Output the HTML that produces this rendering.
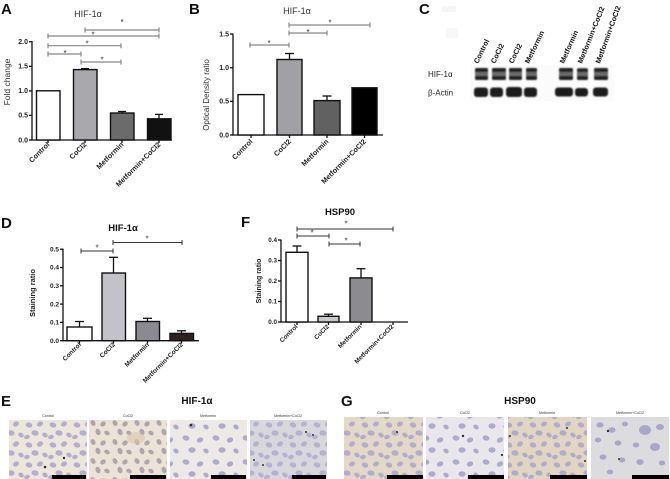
<!DOCTYPE html>
<html><head><meta charset="utf-8"><style>
html,body{margin:0;padding:0;background:#fff;}
svg{display:block;font-family:"Liberation Sans",sans-serif;}
.tl{font-size:7px;font-weight:bold;fill:#222;text-anchor:end;}
.xl{font-size:7.2px;font-weight:bold;fill:#222;text-anchor:end;}
.pl{font-size:15px;font-weight:bold;fill:#111;}
.st{font-size:8px;fill:#333;text-anchor:middle;}
.ax{stroke:#111;stroke-width:1.3;fill:none;}
.br{stroke:#888;stroke-width:1.2;fill:none;}
.bk{stroke:#333;stroke-width:1;fill:none;}
.bar{stroke:#111;stroke-width:1.4;}
.cap{font-size:3.6px;fill:#333;text-anchor:middle;}
</style></head><body>
<svg width="670" height="479" viewBox="0 0 670 479" xmlns="http://www.w3.org/2000/svg">
<defs>
<pattern id="nA" width="24" height="20" patternUnits="userSpaceOnUse">
<g fill="#aba8cb"><ellipse cx="5" cy="5" rx="3.4" ry="2.5" transform="rotate(20 5 5)"/><ellipse cx="16" cy="4" rx="3.2" ry="2.4" transform="rotate(-30 16 4)"/><ellipse cx="11" cy="13" rx="3.6" ry="2.7" transform="rotate(10 11 13)"/><ellipse cx="21" cy="15" rx="3" ry="2.2" transform="rotate(40 21 15)"/><ellipse cx="3" cy="17" rx="2.9" ry="2.1" transform="rotate(-20 3 17)"/></g>
</pattern>
<pattern id="nB" width="22" height="19" patternUnits="userSpaceOnUse">
<g fill="#a89ea5"><ellipse cx="5" cy="5" rx="3.1" ry="2.3" transform="rotate(60 5 5)"/><ellipse cx="15" cy="6" rx="3" ry="2.3" transform="rotate(-40 15 6)"/><ellipse cx="10" cy="14" rx="3.3" ry="2.4" transform="rotate(70 10 14)"/><ellipse cx="19" cy="15" rx="2.9" ry="2.1" transform="rotate(30 19 15)"/></g>
</pattern>
<pattern id="nC" width="30" height="24" patternUnits="userSpaceOnUse">
<g fill="#adabcc"><ellipse cx="6" cy="6" rx="3.5" ry="2.6" transform="rotate(15 6 6)"/><ellipse cx="20" cy="8" rx="3.3" ry="2.5" transform="rotate(-25 20 8)"/><ellipse cx="12" cy="18" rx="3.6" ry="2.7"/><ellipse cx="26" cy="19" rx="2.9" ry="2.2" transform="rotate(35 26 19)"/></g>
</pattern>
<filter id="bl" x="-20%" y="-50%" width="140%" height="200%"><feGaussianBlur stdDeviation="0.7"/></filter>
</defs>

<!-- ============ PANEL A ============ -->
<text class="pl" x="1" y="14">A</text>
<text x="88" y="17" font-size="9" fill="#333" text-anchor="middle">HIF-1α</text>
<text transform="translate(10,82) rotate(-90)" font-size="8.5" fill="#333" text-anchor="middle">Fold change</text>
<g class="ax">
<line x1="32" y1="41" x2="32" y2="140.6"/>
<line x1="31.4" y1="140" x2="172" y2="140"/>
<line x1="29" y1="41.7" x2="32" y2="41.7"/><line x1="29" y1="66.3" x2="32" y2="66.3"/><line x1="29" y1="90.9" x2="32" y2="90.9"/><line x1="29" y1="115.4" x2="32" y2="115.4"/><line x1="29" y1="140" x2="32" y2="140"/>
<line x1="48" y1="140" x2="48" y2="143"/><line x1="85" y1="140" x2="85" y2="143"/><line x1="122" y1="140" x2="122" y2="143"/><line x1="159" y1="140" x2="159" y2="143"/>
</g>
<text class="tl" x="28" y="44">2.0</text><text class="tl" x="28" y="68.6">1.5</text><text class="tl" x="28" y="93.2">1.0</text><text class="tl" x="28" y="117.7">0.5</text><text class="tl" x="28" y="142.3">0.0</text>
<rect class="bar" x="36.5" y="90.8" width="23.5" height="49.2" fill="#fff"/>
<rect class="bar" x="73.5" y="69.6" width="23.5" height="70.4" fill="#a9a9ad"/>
<line class="ax" x1="85" y1="69.6" x2="85" y2="68.6"/><line class="ax" x1="81" y1="68.6" x2="89" y2="68.6"/>
<rect class="bar" x="110.5" y="113" width="23.5" height="27" fill="#6b6b6b"/>
<line class="ax" x1="122" y1="113" x2="122" y2="111.5"/><line class="ax" x1="118" y1="111.5" x2="126" y2="111.5"/>
<rect class="bar" x="147.5" y="118.8" width="23.5" height="21.2" fill="#111"/>
<line class="ax" x1="159" y1="118.8" x2="159" y2="114.4"/><line class="ax" x1="155" y1="114.4" x2="163" y2="114.4"/>
<g class="br">
<path d="M85 30H159M85 27.5V32.5M159 27.5V32.5"/>
<path d="M48 36H159M48 33.5V38.5M159 33.5V38.5"/>
<path d="M48 45.7H121M48 43.2V48.2M121 43.2V48.2"/>
<path d="M48 54H81M48 51.5V56.5M81 51.5V56.5"/>
<path d="M81 62H121M81 59.5V64.5M121 59.5V64.5"/>
</g>
<text class="st" x="122" y="25">*</text><text class="st" x="93" y="37.4">*</text><text class="st" x="87" y="46.4">*</text><text class="st" x="65" y="55.8">*</text><text class="st" x="102" y="62.4">*</text>
<text class="xl" transform="translate(50,145) rotate(-45)">Control</text>
<text class="xl" transform="translate(87,145) rotate(-45)">CoCl2</text>
<text class="xl" transform="translate(124,145) rotate(-45)">Metformin</text>
<text class="xl" transform="translate(161,145) rotate(-45)">Metformin+CoCl2</text>

<!-- ============ PANEL B ============ -->
<text class="pl" x="189" y="14">B</text>
<text x="297" y="14" font-size="9" fill="#333" text-anchor="middle">HIF-1α</text>
<text transform="translate(209,95) rotate(-90)" font-size="8" fill="#333" text-anchor="middle">Optical Density ratio</text>
<g class="ax">
<line x1="233" y1="33.5" x2="233" y2="135.6"/>
<line x1="232.4" y1="135" x2="383" y2="135"/>
<line x1="230" y1="34" x2="233" y2="34"/><line x1="230" y1="67.7" x2="233" y2="67.7"/><line x1="230" y1="101.3" x2="233" y2="101.3"/><line x1="230" y1="135" x2="233" y2="135"/>
<line x1="251" y1="135" x2="251" y2="138"/><line x1="289.5" y1="135" x2="289.5" y2="138"/><line x1="327" y1="135" x2="327" y2="138"/><line x1="364.5" y1="135" x2="364.5" y2="138"/>
</g>
<text class="tl" x="229" y="36.3">1.5</text><text class="tl" x="229" y="70">1.0</text><text class="tl" x="229" y="103.6">0.5</text><text class="tl" x="229" y="137.3">0.0</text>
<rect class="bar" x="238" y="94.6" width="26" height="40.4" fill="#fff"/>
<rect class="bar" x="277" y="59.5" width="25" height="75.5" fill="#a1a1a5"/>
<line class="ax" x1="289.5" y1="59.5" x2="289.5" y2="53.5"/><line class="ax" x1="285" y1="53.5" x2="294" y2="53.5"/>
<rect class="bar" x="314" y="100.6" width="26" height="34.4" fill="#616161"/>
<line class="ax" x1="327" y1="100.6" x2="327" y2="96"/><line class="ax" x1="322.5" y1="96" x2="331.5" y2="96"/>
<rect class="bar" x="352" y="87.8" width="25" height="47.2" fill="#000"/>
<g class="br">
<path d="M250 45H289M250 42.5V47.5M289 42.5V47.5"/>
<path d="M289 33H327M289 30.5V35.5M327 30.5V35.5"/>
<path d="M289 25H370M289 22.5V27.5M370 22.5V27.5"/>
</g>
<text class="st" x="269" y="46">*</text><text class="st" x="308" y="35">*</text><text class="st" x="330" y="25.5">*</text>
<text class="xl" transform="translate(253,142) rotate(-45)">Control</text>
<text class="xl" transform="translate(291.5,142) rotate(-45)">CoCl2</text>
<text class="xl" transform="translate(329,142) rotate(-45)">Metformin</text>
<text class="xl" transform="translate(366.5,142) rotate(-45)">Metformin+CoCl2</text>

<!-- ============ PANEL C ============ -->
<text class="pl" x="419" y="14">C</text>
<rect x="442" y="6" width="14" height="6" fill="#f5f5f5"/>
<rect x="446" y="28" width="12" height="10" fill="#f7f7f7"/>
<rect x="470" y="65" width="144" height="36" fill="#fbfbfb"/>
<g font-size="7.3" font-weight="bold" fill="#111">
<text transform="translate(478,64) rotate(-64)">Control</text>
<text transform="translate(495,64) rotate(-64)">CoCl2</text>
<text transform="translate(513,64) rotate(-64)">CoCl2</text>
<text transform="translate(529,64) rotate(-64)">Metformin</text>
<text transform="translate(564,64) rotate(-66)">Metformin</text>
<text transform="translate(582,64) rotate(-68)">Metformin+CoCl2</text>
<text transform="translate(600,64) rotate(-70)">Metformin+CoCl2</text>
</g>
<text x="428" y="77" font-size="8" fill="#222">HIF-1α</text>
<text x="428" y="95.5" font-size="8" fill="#222">β-Actin</text>
<g filter="url(#bl)">
<g fill="#6a6a6a">
<rect x="475" y="68" width="13" height="12" rx="2"/><rect x="492" y="68" width="14" height="12" rx="2"/><rect x="509" y="68" width="13" height="12" rx="2"/><rect x="526" y="68" width="11" height="12" rx="2"/>
<rect x="559" y="68" width="14" height="12" rx="2"/><rect x="577" y="68" width="11" height="12" rx="2"/><rect x="594" y="68" width="14" height="12" rx="2"/>
</g>
<g fill="#222">
<rect x="475" y="68" width="13" height="4" rx="1.5"/><rect x="492" y="68" width="14" height="4" rx="1.5"/><rect x="509" y="68" width="13" height="4" rx="1.5"/><rect x="526" y="68" width="11" height="4" rx="1.5"/>
<rect x="559" y="68" width="14" height="4" rx="1.5"/><rect x="577" y="68.5" width="11" height="3.5" rx="1.5"/><rect x="594" y="68" width="14" height="4" rx="1.5"/>
<rect x="475" y="76" width="13" height="4" rx="1.5"/><rect x="492" y="76" width="14" height="4" rx="1.5"/><rect x="509" y="76" width="13" height="4" rx="1.5"/><rect x="526" y="76" width="11" height="4" rx="1.5"/>
<rect x="559" y="76" width="14" height="4" rx="1.5"/><rect x="577" y="76" width="11" height="4" rx="1.5"/><rect x="594" y="76" width="14" height="4" rx="1.5"/>
</g>
<g fill="#1a1a1a">
<rect x="474" y="87.5" width="14" height="9.5" rx="3"/><rect x="490" y="87.5" width="13" height="9.5" rx="3"/><rect x="506" y="87" width="16" height="10" rx="3"/><rect x="524" y="87.5" width="13" height="9.5" rx="3"/>
<rect x="555" y="87.5" width="18" height="9" rx="3"/><rect x="575" y="88" width="13" height="8.5" rx="3"/><rect x="593" y="87.5" width="15" height="9" rx="3"/>
</g>
</g>

<!-- ============ PANEL D ============ -->
<text class="pl" x="1" y="228">D</text>
<text x="123" y="231" font-size="9.5" font-weight="bold" fill="#111" text-anchor="middle">HIF-1α</text>
<text transform="translate(35,293) rotate(-90)" font-size="7.5" font-weight="bold" fill="#222" text-anchor="middle">Staining ratio</text>
<g class="ax">
<line x1="63" y1="248.6" x2="63" y2="341.3"/>
<line x1="62.4" y1="340.7" x2="199" y2="340.7"/>
<line x1="60" y1="249.2" x2="63" y2="249.2"/><line x1="60" y1="267.5" x2="63" y2="267.5"/><line x1="60" y1="285.8" x2="63" y2="285.8"/><line x1="60" y1="304.1" x2="63" y2="304.1"/><line x1="60" y1="322.4" x2="63" y2="322.4"/><line x1="60" y1="340.7" x2="63" y2="340.7"/>
<line x1="79.5" y1="340.7" x2="79.5" y2="343.5"/><line x1="113.5" y1="340.7" x2="113.5" y2="343.5"/><line x1="147.5" y1="340.7" x2="147.5" y2="343.5"/><line x1="181.5" y1="340.7" x2="181.5" y2="343.5"/>
</g>
<g class="tl" style="font-size:6.5px">
<text x="59" y="251.4">0.5</text><text x="59" y="269.7">0.4</text><text x="59" y="288">0.3</text><text x="59" y="306.3">0.2</text><text x="59" y="324.6">0.1</text><text x="59" y="342.9">0.0</text>
</g>
<rect class="bar" x="67" y="327" width="25" height="13.7" fill="#fff"/>
<line class="ax" x1="79.5" y1="327" x2="79.5" y2="321.5"/><line class="ax" x1="75" y1="321.5" x2="84" y2="321.5"/>
<rect class="bar" x="102" y="273" width="23.5" height="67.7" fill="#c3c2c8"/>
<line class="ax" x1="113.5" y1="273" x2="113.5" y2="257.3"/><line class="ax" x1="109" y1="257.3" x2="118" y2="257.3"/>
<rect class="bar" x="136" y="321.5" width="23.5" height="19.2" fill="#8b8a90"/>
<line class="ax" x1="147.5" y1="321.5" x2="147.5" y2="318.3"/><line class="ax" x1="143" y1="318.3" x2="152" y2="318.3"/>
<rect class="bar" x="170" y="333.4" width="23.5" height="7.3" fill="#2b2220"/>
<line class="ax" x1="181.5" y1="333.4" x2="181.5" y2="330.8"/><line class="ax" x1="177" y1="330.8" x2="186" y2="330.8"/>
<g class="bk">
<path d="M81 251H113M81 248.5V253.5M113 248.5V253.5"/>
<path d="M113 242.5H182M113 240V245M182 240V245"/>
</g>
<text class="st" x="97" y="250.3">*</text><text class="st" x="147" y="241.3">*</text>
<g class="xl" style="font-size:6.5px">
<text transform="translate(81.5,345) rotate(-45)">Control</text>
<text transform="translate(115.5,345) rotate(-45)">CoCl2</text>
<text transform="translate(149.5,345) rotate(-45)">Metformin</text>
<text transform="translate(183.5,345) rotate(-45)">Metformin+CoCl2</text>
</g>

<!-- ============ PANEL F ============ -->
<text class="pl" x="241" y="227">F</text>
<text x="340" y="215" font-size="9.5" font-weight="bold" fill="#111" text-anchor="middle">HSP90</text>
<text transform="translate(261,281) rotate(-90)" font-size="7" font-weight="bold" fill="#222" text-anchor="middle">Staining ratio</text>
<g class="ax">
<line x1="281" y1="239.5" x2="281" y2="322.6"/>
<line x1="280.4" y1="322" x2="408" y2="322"/>
<line x1="278" y1="240" x2="281" y2="240"/><line x1="278" y1="260.5" x2="281" y2="260.5"/><line x1="278" y1="281" x2="281" y2="281"/><line x1="278" y1="301.5" x2="281" y2="301.5"/><line x1="278" y1="322" x2="281" y2="322"/>
<line x1="297" y1="322" x2="297" y2="325"/><line x1="328.5" y1="322" x2="328.5" y2="325"/><line x1="361" y1="322" x2="361" y2="325"/><line x1="393" y1="322" x2="393" y2="325"/>
</g>
<g class="tl" style="font-size:6.3px">
<text x="277" y="242.2">0.4</text><text x="277" y="262.7">0.3</text><text x="277" y="283.2">0.2</text><text x="277" y="303.7">0.1</text><text x="277" y="324.2">0.0</text>
</g>
<rect class="bar" x="286" y="252.3" width="22" height="69.7" fill="#fff"/>
<line class="ax" x1="297" y1="252.3" x2="297" y2="246"/><line class="ax" x1="292.5" y1="246" x2="301.5" y2="246"/>
<rect class="bar" x="318" y="316.3" width="21" height="5.7" fill="#c8c8cc"/>
<line class="ax" x1="328.5" y1="316.3" x2="328.5" y2="314.2"/><line class="ax" x1="324" y1="314.2" x2="333" y2="314.2"/>
<rect class="bar" x="350" y="277.9" width="22" height="44.1" fill="#8c8c90"/>
<line class="ax" x1="361" y1="277.9" x2="361" y2="268.7"/><line class="ax" x1="356.5" y1="268.7" x2="365.5" y2="268.7"/>
<g class="bk">
<path d="M297 229H393M297 226.5V231.5M393 226.5V231.5"/>
<path d="M297 236H329M297 233.5V238.5M329 233.5V238.5"/>
<path d="M329 244H360M329 241.5V246.5M360 241.5V246.5"/>
</g>
<text class="st" x="346" y="226.5">*</text><text class="st" x="312" y="235.5">*</text><text class="st" x="346" y="243.5">*</text>
<g class="xl" style="font-size:6.3px">
<text transform="translate(298,327) rotate(-45)">Control</text>
<text transform="translate(329.5,327) rotate(-45)">CoCl2</text>
<text transform="translate(362,327) rotate(-45)">Metformin</text>
<text transform="translate(394,327) rotate(-45)">Metformin+CoCl2</text>
</g>

<!-- ============ PANEL E ============ -->
<text class="pl" x="1" y="406">E</text>
<text x="197" y="404" font-size="10" font-weight="bold" fill="#111" text-anchor="middle">HIF-1α</text>
<text class="cap" x="48" y="417">Control</text>
<text class="cap" x="128" y="417">CoCl2</text>
<text class="cap" x="208" y="417">Metformin</text>
<text class="cap" x="288" y="417">Metformin+CoCl2</text>
<rect x="9" y="420" width="78" height="59" fill="#ece6dc"/>
<rect x="9" y="420" width="78" height="59" fill="url(#nA)" opacity="0.9"/>
<rect x="89" y="420" width="78" height="59" fill="#eae3d6"/>
<rect x="89" y="420" width="78" height="59" fill="url(#nB)" opacity="0.9"/>
<ellipse cx="136" cy="438" rx="9" ry="6" fill="#d9c6a8" opacity="0.6"/>
<rect x="170" y="420" width="77" height="59" fill="#ede9e6"/>
<rect x="170" y="420" width="77" height="59" fill="url(#nC)"/>
<rect x="250" y="420" width="77" height="59" fill="#d8d8dc"/>
<rect x="250" y="420" width="77" height="59" fill="url(#nA)" opacity="0.8"/>
<g fill="#3a2a20"><circle cx="45" cy="467" r="1.3"/><circle cx="64" cy="458" r="1.2"/><circle cx="191" cy="425" r="1.3"/><circle cx="306" cy="432" r="1"/><circle cx="313" cy="435" r="1"/><circle cx="254" cy="460" r="1"/><circle cx="263" cy="465" r="1"/></g>
<g fill="#000">
<rect x="52" y="475" width="34" height="4"/><rect x="130" y="475" width="36" height="4"/><rect x="211" y="475" width="35" height="4"/><rect x="292" y="475" width="34" height="4"/>
</g>

<!-- ============ PANEL G ============ -->
<text class="pl" x="341" y="406">G</text>
<text x="520" y="404" font-size="10" font-weight="bold" fill="#111" text-anchor="middle">HSP90</text>
<text class="cap" x="383" y="414">Control</text>
<text class="cap" x="465" y="414">CoCl2</text>
<text class="cap" x="547" y="414">Metformin</text>
<text class="cap" x="630" y="414">Metformin+CoCl2</text>
<rect x="344" y="417" width="79" height="62" fill="#e4d9c8"/>
<rect x="344" y="417" width="79" height="62" fill="url(#nA)" opacity="0.9"/>
<rect x="426" y="417" width="78" height="62" fill="#e9e7ec"/>
<rect x="426" y="417" width="78" height="62" fill="url(#nC)"/>
<rect x="508" y="417" width="79" height="62" fill="#e2d6c3"/>
<rect x="508" y="417" width="79" height="62" fill="url(#nA)" opacity="0.9"/>
<rect x="591" y="417" width="78" height="62" fill="#dcdcdf"/>
<g fill="#a9a7c8"><ellipse cx="600" cy="425" rx="3.5" ry="2.6"/><ellipse cx="612" cy="430" rx="3.5" ry="2.8"/><ellipse cx="625" cy="424" rx="3" ry="2.4"/><ellipse cx="645" cy="430" rx="6" ry="5"/><ellipse cx="660" cy="427" rx="4" ry="3"/><ellipse cx="598" cy="440" rx="3.2" ry="2.5"/><ellipse cx="618" cy="443" rx="3.4" ry="2.6"/><ellipse cx="636" cy="445" rx="3.2" ry="2.5"/><ellipse cx="655" cy="447" rx="5" ry="4"/><ellipse cx="603" cy="457" rx="3.4" ry="2.6"/><ellipse cx="622" cy="460" rx="3.2" ry="2.5"/><ellipse cx="640" cy="462" rx="3.6" ry="2.8"/><ellipse cx="662" cy="463" rx="3.2" ry="2.5"/><ellipse cx="610" cy="472" rx="3.2" ry="2.4"/></g>
<g fill="#3a2a20"><circle cx="397" cy="432" r="1"/><circle cx="463" cy="436" r="1.2"/><circle cx="502" cy="455" r="1.1"/><circle cx="510" cy="436" r="1"/><circle cx="567" cy="428" r="1"/><circle cx="585" cy="461" r="1"/><circle cx="608" cy="431" r="1.2"/><circle cx="619" cy="459" r="1"/></g>
<g fill="#000">
<rect x="387" y="475" width="36" height="4"/><rect x="468" y="475" width="36" height="4"/><rect x="550" y="475" width="37" height="4"/><rect x="632" y="475" width="37" height="4"/>
</g>
</svg>
</body></html>
